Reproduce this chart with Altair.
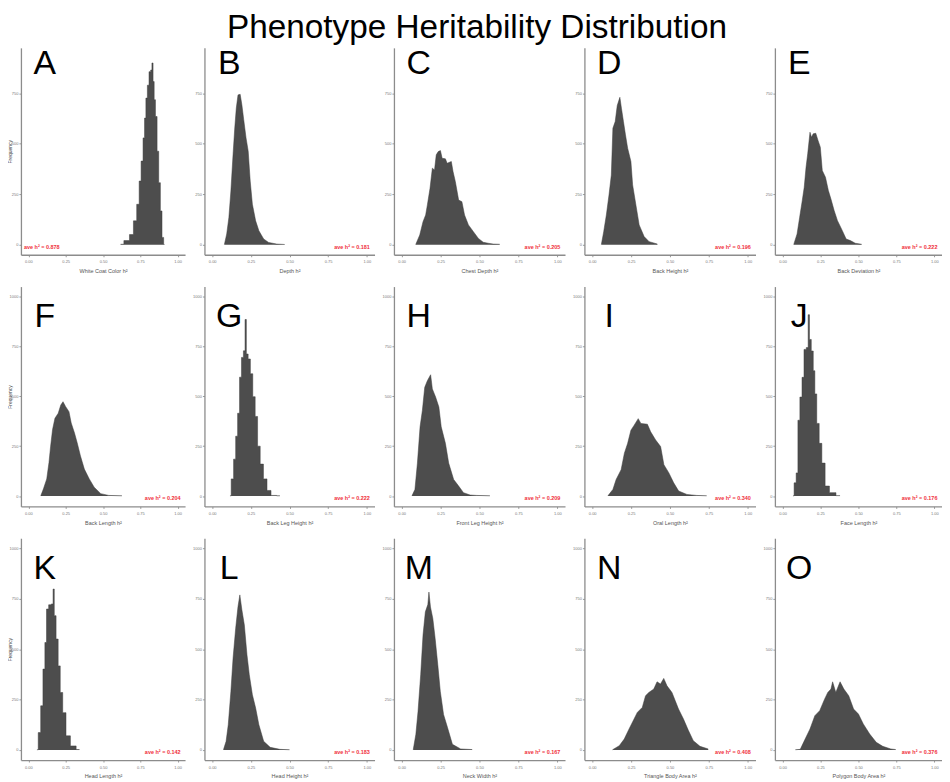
import altair as alt
import pandas as pd

letters = list("ABCDEFGHIJKLMNO")
x_titles = [
    "White Coat Color h²", "Depth h²", "Chest Depth h²", "Back Height h²", "Back Deviation h²",
    "Back Length h²", "Back Leg Height h²", "Front Leg Height h²", "Oral Length h²", "Face Length h²",
    "Head Length h²", "Head Height h²", "Neck Width h²", "Triangle Body Area h²", "Polygon Body Area h²",
]
ave_labels = [
    "ave h² = 0.878", "ave h² = 0.181", "ave h² = 0.205", "ave h² = 0.196", "ave h² = 0.222",
    "ave h² = 0.204", "ave h² = 0.222", "ave h² = 0.209", "ave h² = 0.340", "ave h² = 0.176",
    "ave h² = 0.142", "ave h² = 0.183", "ave h² = 0.167", "ave h² = 0.408", "ave h² = 0.376",
]

a_h = [.618, .662, .693, .715, .737, .748, .763, .774, .783, .792, .803, .814, .825, .831, .84, .846, .857, .868, .879, .89, .901, .912]
a_n = [2, 20, 50, 118, 200, 315, 414, 529, 627, 726, 790, 857, 865, 900, 808, 718, 635, 463, 307, 167, 36, 1]
b_h = [.079, .094, .108, .121, .135, .146, .156, .167, .181, .192, .204, .219, .233, .246, .26, .281, .302, .333, .365, .417, .469]
b_n = [1, 53, 135, 266, 447, 578, 677, 742, 745, 693, 619, 529, 463, 315, 200, 118, 69, 28, 11, 3, 1]
c_h = [.09, .116, .137, .154, .165, .182, .197, .211, .222, .235, .249, .26, .281, .292, .319, .33, .345, .366, .387, .404, .429, .461, .493, .524, .556, .588, .63]
c_n = [1, 48, 114, 147, 197, 279, 379, 370, 445, 461, 466, 428, 425, 403, 412, 362, 312, 221, 213, 147, 98, 64, 31, 12, 7, 3, 2]
d_h = [.059, .074, .091, .108, .123, .133, .148, .161, .178, .188, .201, .214, .228, .249, .26, .281, .302, .334, .366, .419]
d_n = [1, 64, 147, 246, 345, 577, 610, 689, 730, 676, 610, 544, 478, 412, 296, 197, 98, 40, 15, 3]
e_h = [.074, .096, .113, .13, .143, .155, .166, .181, .191, .202, .219, .234, .249, .262, .283, .302, .319, .34, .362, .394, .419, .447, .479, .521]
e_n = [1, 53, 136, 218, 284, 383, 450, 557, 532, 549, 552, 516, 483, 367, 334, 268, 226, 169, 119, 69, 28, 20, 7, 2]
f_h = [.083, .101, .123, .138, .149, .162, .178, .2, .217, .232, .25, .272, .287, .309, .327, .349, .375, .408, .441, .485, .539, .627]
f_n = [1, 36, 86, 168, 250, 333, 390, 415, 456, 473, 448, 423, 366, 316, 267, 201, 135, 86, 44, 12, 3, 1]
g_h = [.115, .131, .146, .158, .171, .183, .196, .208, .217, .225, .24, .254, .271, .285, .302, .319, .344, .365, .396, .438]
g_n = [1, 86, 185, 300, 415, 596, 695, 728, 885, 712, 687, 613, 498, 399, 250, 160, 86, 28, 3, 1]
h_h = [.066, .085, .101, .118, .133, .148, .165, .186, .197, .218, .239, .254, .281, .302, .334, .366, .397, .44, .482, .567]
h_n = [1, 33, 165, 347, 430, 545, 578, 608, 537, 496, 446, 347, 264, 165, 83, 50, 17, 5, 3, 1]
i_h = [.101, .133, .154, .186, .207, .228, .249, .27, .296, .313, .355, .376, .408, .44, .461, .493, .524, .556, .609, .672, .736]
i_n = [1, 33, 83, 132, 215, 264, 330, 355, 388, 364, 360, 322, 281, 248, 157, 116, 66, 25, 8, 3, 1]
j_h = [.069, .084, .096, .107, .122, .135, .148, .165, .173, .182, .197, .208, .218, .233, .25, .268, .293, .325, .379]
j_n = [1, 66, 116, 380, 496, 595, 735, 744, 909, 785, 727, 628, 512, 364, 264, 165, 50, 17, 2]
k_h = [.057, .075, .09, .105, .116, .127, .145, .162, .169, .178, .193, .206, .221, .239, .265, .298, .342]
k_n = [1, 86, 219, 401, 533, 699, 720, 724, 798, 666, 550, 417, 285, 185, 70, 20, 2]
l_h = [.073, .09, .104, .121, .135, .152, .167, .179, .192, .208, .225, .24, .26, .281, .302, .333, .375, .438, .5]
l_n = [1, 43, 125, 290, 455, 604, 711, 769, 695, 620, 472, 373, 274, 208, 125, 43, 13, 3, 1]
m_h = [.074, .091, .105, .122, .137, .152, .168, .175, .185, .2, .215, .232, .248, .269, .295, .326, .379, .453]
m_n = [1, 78, 192, 373, 570, 685, 721, 783, 709, 652, 553, 422, 291, 176, 110, 28, 5, 2]
n_h = [.131, .174, .206, .237, .269, .29, .322, .343, .364, .396, .417, .439, .46, .481, .513, .534, .555, .587, .619, .65, .693, .746]
n_n = [1, 21, 54, 104, 153, 186, 211, 269, 285, 302, 338, 327, 355, 318, 285, 244, 203, 153, 96, 46, 18, 5]
o_h = [.085, .117, .149, .181, .213, .245, .277, .298, .319, .33, .351, .379, .404, .436, .468, .5, .532, .574, .617, .66, .713, .745]
o_n = [1, 3, 54, 104, 170, 195, 252, 285, 302, 338, 285, 338, 302, 269, 203, 178, 129, 79, 38, 18, 5, 2]

series = [
    (a_h, a_n), (b_h, b_n), (c_h, c_n), (d_h, d_n), (e_h, e_n),
    (f_h, f_n), (g_h, g_n), (h_h, h_n), (i_h, i_n), (j_h, j_n),
    (k_h, k_n), (l_h, l_n), (m_h, m_n), (n_h, n_n), (o_h, o_n),
]
# these four show clear stairs in the reference, the rest read as a smooth outline
stepped = {"A", "G", "J", "K"}

col_widths = [165, 171, 172, 172, 168]
row_heights = [208, 221, 223]
y_domains = [[-50, 975], [-52, 1050], [-50, 1050]]
y_ticks = [[0, 250, 500, 750], [0, 250, 500, 750, 1000], [0, 250, 500, 750, 1000]]
x_ticks = [0, 0.25, 0.5, 0.75, 1]


def panel(i):
    row, col = divmod(i, 5)
    h, n = series[i]
    df = pd.DataFrame({"h2": h, "count": n})

    x = alt.X(
        "h2:Q",
        scale=alt.Scale(domain=[-0.05, 1.05], nice=False, zero=False),
        axis=alt.Axis(
            title=x_titles[i], values=x_ticks, format=".2f", grid=False,
            labelFontSize=4, labelColor="#777777", labelPadding=3,
            tickSize=2, tickColor="#999999", domainColor="#8c8c8c", domainWidth=1.3,
            titleFontSize=5.5, titleFontWeight="normal", titleColor="#555555", titlePadding=5,
        ),
    )
    y = alt.Y(
        "count:Q",
        scale=alt.Scale(domain=y_domains[row], nice=False, zero=False),
        axis=alt.Axis(
            title="Frequency" if col == 0 else None, titleX=-8,
            values=y_ticks[row], format="d", grid=False,
            labelFontSize=4, labelColor="#777777", labelPadding=1,
            tickSize=2, tickColor="#999999", domainColor="#8c8c8c", domainWidth=1.3,
            titleFontSize=5, titleFontWeight="normal", titleColor="#444444",
        ),
    )

    area = alt.Chart(df).mark_area(
        interpolate="step" if letters[i] in stepped else "linear",
        color="#4d4d4d", opacity=1,
        line={"color": "#3d3d3d", "strokeWidth": 0.5},
    ).encode(x=x, y=y)

    letter = alt.Chart(pd.DataFrame({"h2": [0.11], "count": [895], "t": [letters[i]]})).mark_text(
        fontSize=34, font="Liberation Sans", color="black", align="center", baseline="middle",
    ).encode(x="h2:Q", y="count:Q", text="t:N")

    left = i == 0
    ave = alt.Chart(pd.DataFrame({"h2": [-0.03 if left else 1.02], "count": [-12], "t": [ave_labels[i]]})).mark_text(
        fontSize=5.5, font="Liberation Sans", fontWeight="bold", color="#f0303c",
        align="left" if left else "right", baseline="middle",
    ).encode(x="h2:Q", y="count:Q", text="t:N")

    return (area + letter + ave).properties(width=col_widths[col], height=row_heights[row])


chart = alt.concat(
    *[panel(i) for i in range(15)],
    columns=5, bounds="flush", align="each", spacing={"row": 32, "column": 19.5},
).properties(
    title=alt.TitleParams(
        "Phenotype Heritability Distribution", fontSize=33.5, font="Liberation Sans",
        fontWeight="normal", color="black", anchor="middle", offset=2, dx=2,
    ),
    padding=0,
).configure_view(stroke=None).configure_axis(labelFont="Liberation Sans", titleFont="Liberation Sans")

chart.save("out.html", embed_options={"renderer": "svg", "actions": False})
